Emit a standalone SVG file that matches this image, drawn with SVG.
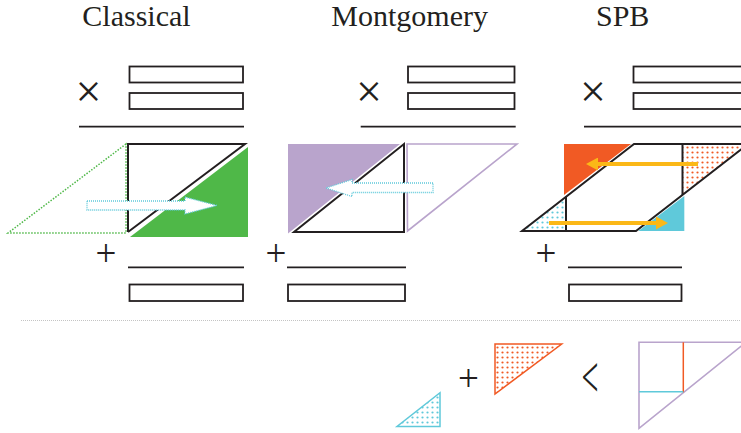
<svg xmlns="http://www.w3.org/2000/svg" width="741" height="433" viewBox="0 0 741 433">
<style>
.title{font-family:"Liberation Serif","Times New Roman",serif;font-size:30px;fill:#231f20;text-anchor:middle}
.op{font-family:"Liberation Serif","Times New Roman",serif;fill:#231f20;text-anchor:middle}
.box{fill:none;stroke:#231f20;stroke-width:1.8}
.rule{stroke:#231f20;stroke-width:1.8;fill:none}
.blk{stroke:#231f20;stroke-width:2;fill:none;stroke-linejoin:miter}
.darrow{fill:#fff;stroke:#5fc9da;stroke-width:1.3;stroke-dasharray:1 1}
.yarrow{stroke:#fbb817;stroke-width:4;fill:none}
</style>
<defs>
<pattern id="dotO" width="5" height="5" patternUnits="userSpaceOnUse">
<rect width="5" height="5" fill="#fff"/>
<circle cx="2.5" cy="2.5" r="1.1" fill="#f15a24"/>
</pattern>
<pattern id="dotC" width="5" height="5" patternUnits="userSpaceOnUse">
<rect width="5" height="5" fill="#fff"/>
<circle cx="2.5" cy="2.5" r="1.1" fill="#5fc9da"/>
</pattern>
<marker id="yhead" viewBox="0 0 12 13" refX="0" refY="6.5" markerWidth="12" markerHeight="13" markerUnits="userSpaceOnUse" orient="auto">
<path d="M0,0 L12,6.5 L0,13 Z" fill="#fbb817"/>
</marker>
</defs>

<g id="classical">
<text class="title" x="136.5" y="26">Classical</text>
<text class="op" x="88.5" y="107" font-size="46">×</text>
<rect class="box" x="129.5" y="66.5" width="113.5" height="16"/>
<rect class="box" x="129.5" y="93" width="113.5" height="16"/>
<line class="rule" x1="79" y1="126.7" x2="244" y2="126.7"/>
<polygon points="126,144 8,233 126,233" fill="none" stroke="#4fb848" stroke-width="1.5" stroke-dasharray="1.5 1.5"/>
<polygon points="130,237 248,237 248,147" fill="#4fb848"/>
<polyline class="blk" points="128,232 128,144 245,144 128,232"/>
<polygon class="darrow" points="87,201 185,201 185,197 217,205.5 185,214 185,210 87,210"/>
<text class="op" x="106" y="265.5" font-size="37">+</text>
<line class="rule" x1="128" y1="267.3" x2="244" y2="267.3"/>
<rect class="box" x="129.5" y="284.5" width="113.5" height="16.5"/>
</g>

<g id="montgomery">
<text class="title" x="409.7" y="26">Montgomery</text>
<text class="op" x="369" y="107" font-size="46">×</text>
<rect class="box" x="408" y="66.5" width="106.5" height="16"/>
<rect class="box" x="408" y="93" width="106.5" height="16"/>
<line class="rule" x1="360.7" y1="126.7" x2="515.7" y2="126.7"/>
<polygon points="288,144 400,144 288,233.5" fill="#b9a4cc"/>
<polygon points="407,144 517,144 407.5,231" fill="none" stroke="#b9a4cc" stroke-width="1.6"/>
<polygon class="blk" points="404,144 404,232 294,232"/>
<polygon class="darrow" points="433,183 352,183 352,179.5 326,188 352,196.5 352,192.5 433,192.5"/>
<text class="op" x="276" y="265.5" font-size="37">+</text>
<line class="rule" x1="287" y1="267.3" x2="406" y2="267.3"/>
<rect class="box" x="288" y="284.5" width="117" height="16.5"/>
</g>

<g id="spb">
<text class="title" x="622.7" y="26">SPB</text>
<text class="op" x="593" y="107" font-size="46">×</text>
<rect class="box" x="633.5" y="66.5" width="120" height="16"/>
<rect class="box" x="633.5" y="93" width="120" height="16"/>
<line class="rule" x1="584" y1="126.7" x2="741" y2="126.7"/>
<polygon points="564,144 631,144 564,195" fill="#f15a24"/>
<polygon points="682.5,144 748,144 682.5,195.3" fill="url(#dotO)"/>
<polygon points="566,196.8 566,231 522,231" fill="url(#dotC)"/>
<polygon points="638.3,231 684.3,231 684.3,196" fill="#5fc9da"/>
<polygon class="blk" points="634,144 748,144 636,231 522,231"/>
<line class="blk" x1="566" y1="196.8" x2="566" y2="231"/>
<line class="blk" x1="682.5" y1="144" x2="682.5" y2="195"/>
<text class="op" x="546" y="265.5" font-size="37">+</text>
<line class="rule" x1="568" y1="267.3" x2="682" y2="267.3"/>
<rect class="box" x="569" y="284.5" width="112.5" height="16.5"/>
</g>

<g id="connectors">
<line class="yarrow" x1="698" y1="164" x2="598" y2="164" marker-end="url(#yhead)"/>
<line class="yarrow" x1="549" y1="223" x2="656" y2="223" marker-end="url(#yhead)"/>
</g>

<line id="separator" x1="21" y1="320.5" x2="741" y2="320.5" stroke="#c4c4c4" stroke-width="1" stroke-dasharray="1 1"/>

<g id="comparison">
<polygon points="397,426.5 440,426.5 440,392.7" fill="url(#dotC)" stroke="#5fc9da" stroke-width="1.5"/>
<text class="op" x="468.5" y="391" font-size="37">+</text>
<polygon points="495,344 561.7,344 495,394" fill="url(#dotO)" stroke="#f15a24" stroke-width="1.5"/>
<text class="op" x="0" y="0" font-size="30" transform="translate(590,397) scale(1,2)">&lt;</text>
<polygon points="639,342.3 746,342.3 639,428.3" fill="none" stroke="#b9a4cc" stroke-width="1.6"/>
<line x1="683.3" y1="342.3" x2="683.3" y2="392.3" stroke="#f15a24" stroke-width="1.5"/>
<line x1="639" y1="391.7" x2="683.3" y2="391.7" stroke="#5fc9da" stroke-width="1.5"/>
</g>
</svg>
